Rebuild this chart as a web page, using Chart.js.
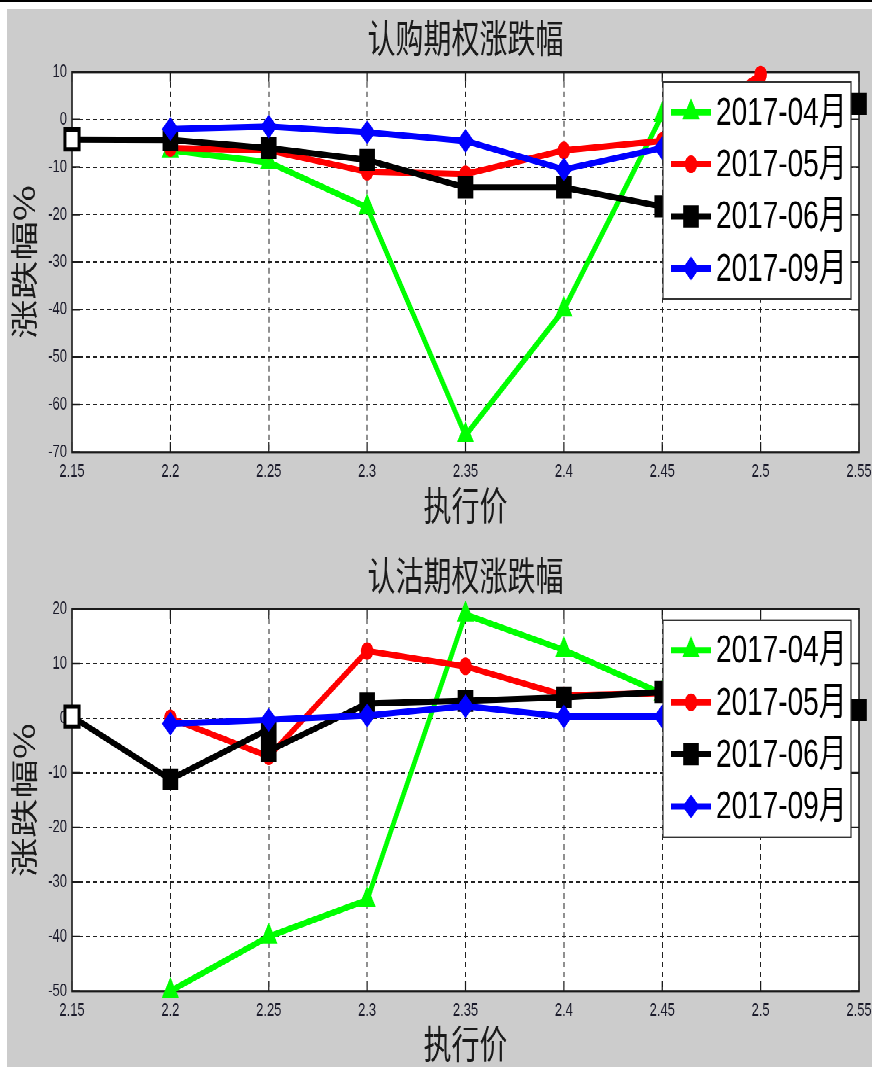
<!DOCTYPE html>
<html><head><meta charset="utf-8">
<script src="https://cdn.jsdelivr.net/npm/chart.js"></script>
<style>
html,body{margin:0;padding:0;background:#fff;width:872px;height:1067px;overflow:hidden;}
#topline{position:absolute;left:0;top:0;width:872px;height:2px;background:#000;}
#panel{position:absolute;left:7px;top:9px;width:865px;height:1058px;background:#cccccc;}
#wrap{position:absolute;left:0;top:0;width:872px;height:762px;transform:scaleY(1.4);transform-origin:0 0;}
#wrap canvas{display:block;}
</style></head>
<body>
<div id="topline"></div><div id="panel"></div>
<div id="wrap">
<canvas id="c1" width="872" height="381" style="width:872px;height:381px"></canvas>
<canvas id="c2" width="872" height="381" style="width:872px;height:381px"></canvas>
</div>
<script>
// ---- data ----
const strikes = [2.15, 2.2, 2.25, 2.3, 2.35, 2.4, 2.45, 2.5, 2.55];
const xTickValues = [2.15, 2.2, 2.25, 2.3, 2.35, 2.4, 2.45, 2.5, 2.55];
const xTickLabels = ['2.15', '2.2', '2.25', '2.3', '2.35', '2.4', '2.45', '2.5', '2.55'];
const seriesLabels = ['2017-04月', '2017-05月', '2017-06月', '2017-09月'];

const callTitle = '认购期权涨跌幅';
const callYTicks = [10, 0, -10, -20, -30, -40, -50, -60, -70];
const callApr = [null, -6.5, -9, -18.5, -66.5, -40, 1, null, null];
const callMay = [null, -6, -6.5, -11, -11.5, -6.5, -4.5, 9.5, null];
const callJun = [-4.2, -4.3, -6, -8.5, -14.3, -14.3, -18.3, -8, 3.3];
const callSep = [null, -2, -1.5, -2.7, -4.5, -10.5, -6, null, null];

const putTitle = '认沽期权涨跌幅';
const putYTicks = [20, 10, 0, -10, -20, -30, -40, -50];
const putApr = [null, -50, -40, -33.3, 19, 12.5, 4.5, null, null];
const putMay = [null, 0, -7, 12.3, 9.5, 4.2, 4.6, null, null];
const putJunStrikes = [2.15, 2.2, 2.25, 2.25, 2.3, 2.35, 2.4, 2.45, 2.5, 2.55];
const putJun = [0.3, -11.2, -2, -6, 2.7, 3.2, 3.8, 4.8, 3, 1.5];
const putSep = [null, -1, -0.3, 0.5, 2.2, 0.3, 0.3, null, null];

const xTitle = '执行价';
const yTitle = '涨跌幅%';

// ---- styles ----
const seriesColors = ['#00ff00', '#ff0000', '#000000', '#0000ff'];
const seriesMarkers = ['triangle', 'circle', 'rect', 'rectRot'];
const seriesMarkerSize = [8.5, 5.5, 10, 7.5];
const cjkFamily = "'Noto Sans CJK SC', sans-serif";
const latFamily = "'Liberation Sans', Arial, 'Noto Sans CJK SC', sans-serif";

function pts(xs, ys) { return xs.map((x, i) => ({x: x, y: ys[i]})); }

function mkDatasets(seriesXY) {
  return seriesXY.map((xy, i) => ({
    label: seriesLabels[i],
    data: pts(xy[0], xy[1]),
    borderColor: seriesColors[i],
    backgroundColor: seriesColors[i],
    pointBackgroundColor: c => (c.raw && c.raw.x === 2.15 && i === 2) ? '#ffffff' : seriesColors[i],
    pointBorderColor: seriesColors[i],
    pointBorderWidth: c => (c.raw && c.raw.x === 2.15 && i === 2) ? 3 : 1.5,
    borderWidth: 4.5,
    pointStyle: seriesMarkers[i],
    pointRadius: seriesMarkerSize[i],
    pointHoverRadius: seriesMarkerSize[i],
    tension: 0,
    spanGaps: false,
    clip: false,
    order: 4 - i
  }));
}

const plotBg = {
  id: 'plotBg',
  beforeDraw(chart) {
    const {ctx, chartArea: a} = chart;
    ctx.save(); ctx.fillStyle = '#ffffff';
    ctx.fillRect(a.left, a.top, a.right - a.left, a.bottom - a.top);
    ctx.restore();
  },
  beforeDatasetsDraw(chart) {
    const {ctx, chartArea: a, scales} = chart;
    ctx.save();
    ctx.setLineDash([]);
    ctx.strokeStyle = '#1a1a1a';
    ctx.lineWidth = 1.6;
    ctx.strokeRect(a.left, a.top, a.right - a.left, a.bottom - a.top);
    ctx.lineWidth = 1.2;
    ctx.beginPath();
    scales.x.ticks.forEach(t => {
      const px = scales.x.getPixelForValue(t.value);
      ctx.moveTo(px, a.bottom); ctx.lineTo(px, a.bottom - 7);
      ctx.moveTo(px, a.top); ctx.lineTo(px, a.top + 7);
    });
    scales.y.ticks.forEach(t => {
      const py = scales.y.getPixelForValue(t.value);
      ctx.moveTo(a.left, py); ctx.lineTo(a.left + 8, py);
      ctx.moveTo(a.right, py); ctx.lineTo(a.right - 8, py);
    });
    ctx.stroke();
    ctx.restore();
  }
};

const boxLegend = {
  id: 'boxLegend',
  afterDatasetsDraw(chart, args, o) {
    const {ctx, chartArea: a} = chart;
    const left = a.right - o.fromRight, top = a.top + o.fromTop, w = o.width, h = o.height;
    ctx.save();
    ctx.setLineDash([]);
    ctx.fillStyle = '#ffffff';
    ctx.fillRect(left, top, w, h);
    ctx.strokeStyle = '#333';
    ctx.lineWidth = 1.2;
    ctx.strokeRect(left, top, w, h);
    chart.data.datasets.forEach((ds, i) => {
      const cy = top + o.firstRow + i * o.rowPitch;
      ctx.strokeStyle = ds.borderColor;
      ctx.lineWidth = ds.borderWidth;
      ctx.beginPath(); ctx.moveTo(left + 8, cy); ctx.lineTo(left + 48, cy); ctx.stroke();
      ctx.fillStyle = ds.borderColor;
      ctx.lineWidth = 1.5;
      Chart.helpers.drawPoint(ctx, {pointStyle: ds.pointStyle, radius: ds.pointRadius, rotation: 0, borderWidth: 1.5}, left + 28, cy);
      ctx.fillStyle = '#000';
      ctx.font = "28px " + latFamily;
      ctx.textBaseline = 'middle';
      ctx.textAlign = 'left';
      ctx.fillText(ds.label, left + 53, cy + 1);
    });
    ctx.restore();
  }
};

function makeChart(id, title, seriesXY, yTicks, lay) {
  return new Chart(document.getElementById(id), {
    type: 'line',
    data: {datasets: mkDatasets(seriesXY)},
    plugins: [plotBg, boxLegend],
    options: {
      responsive: false,
      animation: false,
      devicePixelRatio: 2,
      events: [],
      layout: {padding: {top: lay.padTop, left: 0, right: 11, bottom: 0}},
      plugins: {
        legend: {display: false},
        tooltip: {enabled: false},
        title: {
          display: true, text: title, fullSize: false,
          color: '#1a1a1a',
          font: {family: cjkFamily, size: 28, weight: 'normal', lineHeight: 1.2},
          padding: {top: 0, bottom: lay.titleGap}
        },
        boxLegend: {fromRight: 196, fromTop: lay.legTop, width: 188, height: 155, firstRow: 21.5, rowPitch: 37.2}
      },
      scales: {
        x: {
          type: 'linear', min: 2.15, max: 2.55,
          afterBuildTicks: s => { s.ticks = xTickValues.map(v => ({value: v})); },
          afterFit: s => { s.height = lay.xHeight; s.paddingLeft = 0; s.paddingRight = 0; },
          ticks: {
            callback: (v, i) => xTickLabels[i],
            color: '#1a1a2a', font: {family: latFamily, size: 13}, padding: 6,
            maxRotation: 0, autoSkip: false
          },
          grid: {color: '#222', lineWidth: 1, drawTicks: false},
          border: {display: false, dash: [4, 3]},
          title: {display: true, text: xTitle, color: '#1a1a1a',
                  font: {family: cjkFamily, size: 28, lineHeight: 1.2}, padding: {top: 0, bottom: lay.xTitlePad}}
        },
        y: {
          type: 'linear', min: yTicks[yTicks.length - 1], max: yTicks[0],
          afterBuildTicks: s => { s.ticks = yTicks.slice().reverse().map(v => ({value: v})); },
          afterFit: s => { s.width = 72; s.paddingTop = 0; s.paddingBottom = 0; },
          ticks: {
            callback: v => String(v),
            color: '#1a1a2a', font: {family: latFamily, size: 13}, padding: 5, autoSkip: false
          },
          grid: {color: '#222', lineWidth: 1, drawTicks: false},
          border: {display: false, dash: [4, 3]},
          title: {display: true, text: yTitle, color: '#1a1a1a',
                  font: {family: cjkFamily, size: 28, lineHeight: 1.2}, padding: {top: 7.2, bottom: 0}}
        }
      }
    }
  });
}

makeChart('c1', callTitle,
  [[strikes, callApr], [strikes, callMay], [strikes, callJun], [strikes, callSep]],
  callYTicks,
  {padTop: 10.2, titleGap: 7.6, xHeight: 58.1, xTitlePad: 3.5, legTop: 7.2});

makeChart('c2', putTitle,
  [[strikes, putApr], [strikes, putMay], [putJunStrikes, putJun], [strikes, putSep]],
  putYTicks,
  {padTop: 12.9, titleGap: 7.5, xHeight: 54.1, xTitlePad: 0, legTop: 7.9});
</script>
</body></html>
